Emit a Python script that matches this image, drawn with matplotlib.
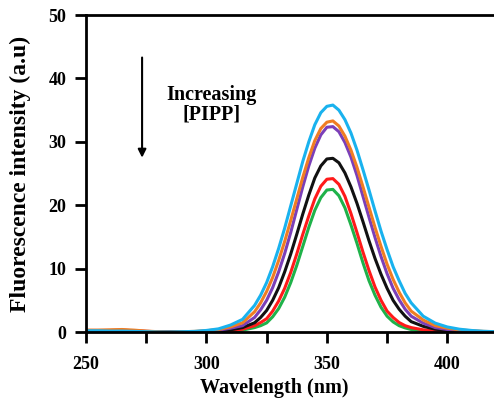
import matplotlib
matplotlib.use('Agg')
import matplotlib.pyplot as plt

plt.rcParams['font.family'] = 'Liberation Serif'
plt.rcParams['font.weight'] = 'bold'

# wavelength grid (nm), finer around the band
wl = [250, 255, 260, 265, 270, 275, 280, 285, 290, 295, 300, 305, 310, 315,
      320, 322.5, 325, 327.5, 330, 332.5, 335, 337.5, 340, 342.5, 345, 347.5,
      350, 352.5, 355, 357.5, 360, 362.5, 365, 367.5, 370, 372.5, 375, 377.5,
      380, 382.5, 385,
      390, 395, 400, 405, 410, 415, 420]

# intensity, highest to lowest
cyan = [0.2, 0.2, 0.15, 0.15, 0.1, 0.05, 0.0, 0.0, 0.05, 0.1, 0.25, 0.5, 1.1, 2.0,
        4.2, 5.8, 7.8, 10.3, 13.2, 16.4, 19.9, 23.4, 26.9, 30.0, 32.7, 34.6,
        35.6, 35.8, 35.0, 33.5, 31.4, 28.7, 25.6, 22.4, 19.1, 15.9, 13.0, 10.3,
        8.1, 6.1, 4.6,
        2.5, 1.4, 0.8, 0.45, 0.25, 0.12, 0.05]
orange = [0.3, 0.3, 0.35, 0.4, 0.3, 0.15, 0.05, 0.0, 0.05, 0.1, 0.2, 0.4, 0.8, 1.46,
          3.2, 4.6, 6.4, 8.6, 11.3, 14.3, 17.6, 21.0, 24.4, 27.5, 30.2, 32.1,
          33.1, 33.3, 32.5, 30.9, 28.7, 26.0, 22.9, 19.7, 16.5, 13.5, 10.7, 8.3,
          6.3, 4.6, 3.3,
          1.9, 1.0, 0.6, 0.35, 0.2, 0.1, 0.05]
purple = [0.2, 0.2, 0.2, 0.2, 0.15, 0.1, 0.05, 0.0, 0.0, 0.05, 0.15, 0.3, 0.6, 1.0,
          2.3, 3.5, 5.0, 7.0, 9.5, 12.4, 15.7, 19.3, 22.9, 26.2, 29.0, 31.1,
          32.3, 32.4, 31.6, 29.9, 27.6, 24.7, 21.4, 18.1, 14.9, 11.9, 9.2, 6.9,
          5.1, 3.6, 2.5,
          1.4, 0.7, 0.4, 0.22, 0.12, 0.06, 0.03]
black = [0.15, 0.15, 0.15, 0.15, 0.1, 0.05, 0.0, 0.0, 0.0, 0.0, 0.05, 0.15, 0.35, 0.7,
         1.46, 2.3, 3.4, 5.0, 7.0, 9.5, 12.3, 15.4, 18.6, 21.6, 24.3, 26.2,
         27.3, 27.4, 26.7, 25.1, 22.9, 20.3, 17.4, 14.4, 11.6, 9.1, 6.9, 5.0,
         3.6, 2.5, 1.64,
         0.9, 0.45, 0.25, 0.12, 0.06, 0.03, 0.0]
red = [0.25, 0.25, 0.25, 0.3, 0.2, 0.1, 0.05, 0.0, 0.0, 0.0, 0.0, 0.08, 0.2, 0.45,
       1.0, 1.5, 2.1, 3.3, 4.9, 6.9, 9.4, 12.3, 15.4, 18.3, 21.0, 23.0,
       24.1, 24.2, 23.3, 21.4, 18.7, 15.7, 12.6, 9.7, 7.1, 5.0, 3.3, 2.3,
       1.5, 1.0, 0.7,
       0.35, 0.18, 0.1, 0.05, 0.0, 0.0, 0.0]
green = [0.15, 0.15, 0.15, 0.15, 0.1, 0.05, 0.0, 0.0, 0.0, 0.0, 0.0, 0.0, 0.12, 0.3,
         0.7, 1.0, 1.44, 2.4, 3.7, 5.5, 7.8, 10.5, 13.5, 16.5, 19.2, 21.2,
         22.4, 22.5, 21.5, 19.6, 16.9, 14.0, 10.9, 8.1, 5.8, 3.9, 2.5, 1.6,
         1.0, 0.65, 0.4,
         0.18, 0.08, 0.0, 0.0, 0.0, 0.0, 0.0]

series = [(green, '#1fb24a'), (red, '#ff1a1a'), (black, '#111111'),
          (purple, '#7b3fb8'), (orange, '#f07d22'), (cyan, '#19b2ee')]

fig = plt.figure(figsize=(4.94, 4.01), dpi=100)
ax = fig.add_axes([0.174, 0.172, 0.829, 0.7905])

for vals, col in series:
    ax.plot(wl, vals, color=col, lw=2.2, solid_joinstyle='round')

ax.set_xlim(250, 420)
ax.set_ylim(0, 50)
ax.set_xticks([250, 300, 350, 400])
ax.set_xticks([275, 325, 375], minor=True)
ax.set_yticks([0, 10, 20, 30, 40, 50])

for s in ['left', 'bottom', 'top']:
    ax.spines[s].set_linewidth(2)
ax.spines['right'].set_visible(False)

ax.tick_params(axis='both', which='both', direction='out', length=8, width=2,
               labelsize=13, top=False, right=False)
ax.tick_params(axis='x', pad=9)
ax.tick_params(axis='y', pad=6)

ax.set_xlabel('Wavelength (nm)', fontsize=14.5, fontweight='bold', labelpad=4)
ax.xaxis.label.set_x(0.46)
ax.set_ylabel('Fluorescence intensity (a.u)', fontsize=17, fontweight='bold', labelpad=13)

ax.annotate('', xy=(273.3, 27.5), xytext=(273.3, 43.3),
            arrowprops=dict(arrowstyle='-|>', color='black', lw=1.5,
                            mutation_scale=12, shrinkA=0, shrinkB=0))
ax.text(302, 35.9, 'Increasing\n[PIPP]', fontsize=14.5, fontweight='bold',
        ha='center', va='center', linespacing=0.95)

fig.savefig('out.png', dpi=100)
